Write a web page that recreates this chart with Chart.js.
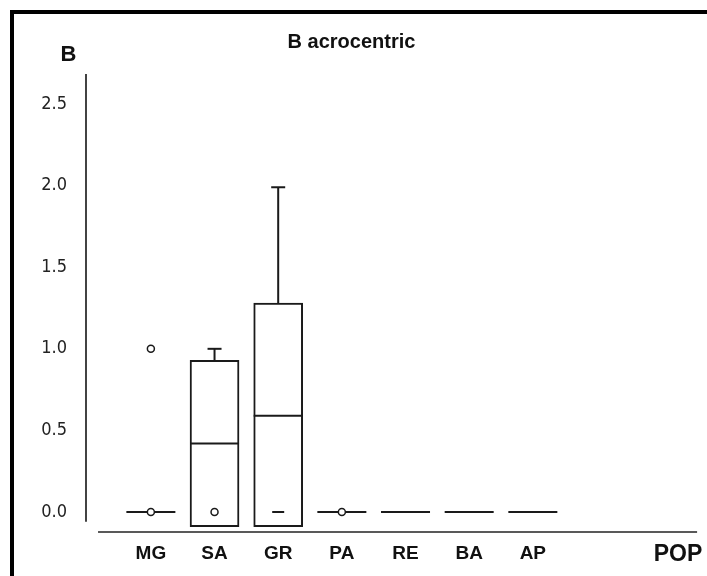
<!DOCTYPE html>
<html><head><meta charset="utf-8">
<script src="https://cdn.jsdelivr.net/npm/chart.js@4.4.1/dist/chart.umd.min.js"></script>
<style>html,body{margin:0;padding:0;background:#fff;} canvas{display:block;}</style>
</head><body>
<canvas id="c" width="707" height="576"></canvas>
<script>
// ---- data ----
const categories = ['MG','SA','GR','PA','RE','BA','AP'];
const q1Values = [0, -0.09, -0.09, 0, 0, 0, 0];
const medianValues = [0, 0.42, 0.59, 0, 0, 0, 0];
const q3Values = [0, 0.93, 1.28, 0, 0, 0, 0];
const whiskerLowValues = [0, -0.09, -0.09, 0, 0, 0, 0];
const whiskerHighValues = [0, 1.0, 1.99, 0, 0, 0, 0];
const outlierCategories = ['MG', 'MG', 'SA', 'PA'];
const outlierValues = [0, 1.0, 0, 0];
const dashCategories = ['GR'];
const dashValues = [0];
const yTickValues = [0, 0.5, 1.0, 1.5, 2.0, 2.5];
const chartTitle = 'B acrocentric';
const panelLabel = 'B';
const xAxisLabel = 'POP';

// ---- style ----
const FONT = "'Liberation Sans', Arial, Helvetica, sans-serif";
const NARROW = "'Liberation Sans Narrow', 'Arial Narrow', 'DejaVu Sans Condensed', sans-serif";
const INK = '#1a1a1a';
const BOX_W = 49, CAP_W = 14;

const boxPartsPlugin = {
  id: 'boxParts',
  afterDatasetDraw(chart, args) {
    if (args.index !== 0) return;
    const {ctx, scales: {x, y}} = chart;
    const seg = (x1, y1, x2, y2) => { ctx.beginPath(); ctx.moveTo(x1, y1); ctx.lineTo(x2, y2); ctx.stroke(); };
    ctx.save();
    ctx.strokeStyle = INK; ctx.lineWidth = 2;
    categories.forEach((c, i) => {
      const px = x.getPixelForValue(i + 1);
      const my = y.getPixelForValue(medianValues[i]);
      seg(px - BOX_W / 2, my, px + BOX_W / 2, my);
      if (whiskerHighValues[i] > q3Values[i]) {
        const t = y.getPixelForValue(whiskerHighValues[i]);
        const b = y.getPixelForValue(q3Values[i]);
        seg(px, b, px, t);
        seg(px - CAP_W / 2, t, px + CAP_W / 2, t);
      }
      if (whiskerLowValues[i] < q1Values[i]) {
        const t = y.getPixelForValue(q1Values[i]);
        const b = y.getPixelForValue(whiskerLowValues[i]);
        seg(px, t, px, b);
        seg(px - CAP_W / 2, b, px + CAP_W / 2, b);
      }
    });
    ctx.restore();
  }
};

const framePlugin = {
  id: 'frame',
  afterDraw(chart) {
    const {ctx, scales: {x, y}, chartArea} = chart;
    ctx.save();
    // outer frame (top and left)
    ctx.fillStyle = '#000';
    ctx.fillRect(10, 10, 697, 4);
    ctx.fillRect(10, 10, 4, 566);
    // axis lines
    ctx.strokeStyle = '#222'; ctx.lineWidth = 1.7;
    ctx.beginPath();
    ctx.moveTo(chartArea.left, chartArea.top);
    ctx.lineTo(chartArea.left, y.getPixelForValue(-0.06));
    ctx.stroke();
    ctx.beginPath();
    ctx.moveTo(x.getPixelForValue(0.17), chartArea.bottom);
    ctx.lineTo(x.getPixelForValue(9.58), chartArea.bottom);
    ctx.stroke();
    // panel label & axis label
    ctx.fillStyle = '#111';
    ctx.textAlign = 'center'; ctx.textBaseline = 'middle';
    ctx.font = "bold 22px " + FONT;
    ctx.fillText(panelLabel, 68.5, 55);
    ctx.font = "bold 23px " + FONT;
    ctx.fillText(xAxisLabel, 678, 555);
    ctx.restore();
  }
};

new Chart(document.getElementById('c'), {
  type: 'bar',
  data: {
    datasets: [
      {
        type: 'bar',
        data: categories.map((c, i) => ({x: i + 1, y: [q1Values[i], q3Values[i]]})),
        backgroundColor: '#fff', borderColor: INK, borderWidth: 2, borderSkipped: false,
        barThickness: BOX_W, order: 3, clip: false
      },
      {
        type: 'scatter',
        data: outlierCategories.map((c, i) => ({x: categories.indexOf(c) + 1, y: outlierValues[i]})),
        pointStyle: 'circle', pointRadius: 3.5, borderWidth: 1.5,
        backgroundColor: '#fff', borderColor: INK, order: 1, clip: false
      },
      {
        type: 'scatter',
        data: dashCategories.map((c, i) => ({x: categories.indexOf(c) + 1, y: dashValues[i]})),
        pointStyle: 'line', pointRadius: 6, borderWidth: 2,
        borderColor: INK, backgroundColor: INK, order: 2, clip: false
      }
    ]
  },
  options: {
    responsive: false,
    animation: false,
    layout: {padding: {left: 0, right: 4, top: 0, bottom: 0}},
    plugins: {
      legend: {display: false},
      tooltip: {enabled: false},
      title: {
        display: true, text: chartTitle, color: '#111',
        font: {family: FONT, size: 20, weight: 'bold'},
        padding: {top: 30, bottom: 20}
      }
    },
    scales: {
      x: {
        type: 'linear', min: -0.019, max: 9.61, offset: false,
        grid: {display: false, drawTicks: false, tickLength: 0, offset: false},
        border: {display: false},
        afterBuildTicks: s => { s.ticks = categories.map((c, i) => ({value: i + 1})); },
        afterFit: s => { s.height = 44; },
        ticks: {
          padding: 10, color: '#111', autoSkip: false, maxRotation: 0,
          font: {family: FONT, size: 19, weight: 'bold'},
          callback: v => categories[Math.round(v) - 1] ?? ''
        }
      },
      y: {
        min: -0.1225, max: 2.684,
        grid: {display: false, drawTicks: false, tickLength: 0},
        border: {display: false},
        afterBuildTicks: s => { s.ticks = yTickValues.map(v => ({value: v})); },
        afterFit: s => { s.width = 86; },
        ticks: {
          padding: 19, color: '#222',
          font: {family: NARROW, size: 18},
          callback: v => Number(v).toFixed(1)
        }
      }
    }
  },
  plugins: [boxPartsPlugin, framePlugin]
});
</script>
</body></html>
